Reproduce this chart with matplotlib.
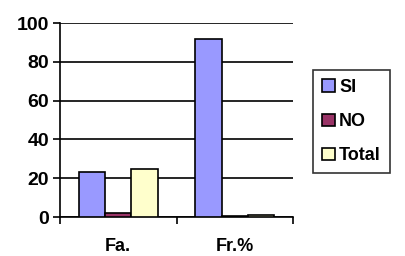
import numpy as np
import matplotlib.pyplot as plt

# data
categories = ["Fa.", "Fr.%"]
series = ["SI", "NO", "Total"]
si = [23, 92]
no = [2, 0.3]
total = [25, 0.8]
colors = ["#9999FF", "#993366", "#FFFFCC"]

plt.rcParams['font.family'] = ['Liberation Sans', 'DejaVu Sans']
plt.rcParams['font.weight'] = 'bold'

fig = plt.figure(figsize=(4.05, 2.56), dpi=100)
ax = fig.add_axes([60 / 405, 1 - 217 / 256, 233 / 405, 194 / 256])

x = np.arange(len(categories))
w = 0.226
for i, (vals, name) in enumerate(zip([si, no, total], series)):
    ax.bar(x + (i - 1) * w, vals, w, color=colors[i], edgecolor="black",
           linewidth=1.2, label=name, zorder=3)

ax.set_xlim(-0.5, 1.5)
ax.set_ylim(0, 100)
ax.set_yticks([0, 20, 40, 60, 80, 100])
ax.yaxis.grid(True, color="black", linewidth=1.2, zorder=0)
ax.set_axisbelow(True)

ax.set_xticks(x)
ax.set_xticklabels(categories)
ax.set_xticks([-0.5, 0.5, 1.5], minor=True)
ax.tick_params(axis="x", which="major", length=0, pad=15, labelsize=13)
ax.tick_params(axis="x", which="minor", length=5, width=1.2, direction="out")
ax.tick_params(axis="y", length=5, width=1.2, labelsize=14, pad=3)

for s in ["top", "right"]:
    ax.spines[s].set_visible(False)
for s in ["left", "bottom"]:
    ax.spines[s].set_linewidth(1.2)

leg = fig.legend(loc="upper left", bbox_to_anchor=(313 / 405, 1 - 70 / 256),
                 fontsize=13, frameon=True, fancybox=False, edgecolor="black",
                 handlelength=0.7, handleheight=0.7, handletextpad=0.25,
                 labelspacing=0.95, borderpad=0.5, borderaxespad=0)
leg.get_frame().set_linewidth(1.2)

fig.savefig("out.png", dpi=100)
